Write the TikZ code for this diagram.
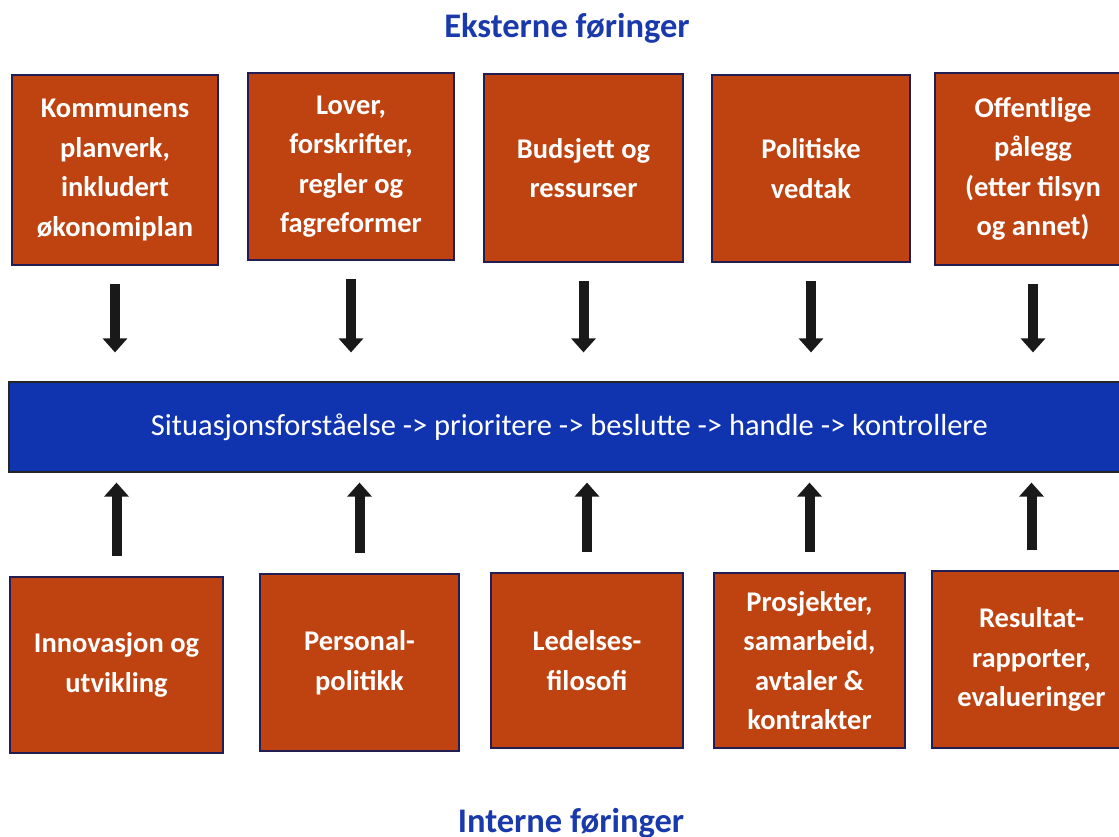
\documentclass[tikz,border=0pt]{standalone}
\usepackage{fontspec}
\setmainfont{Carlito}
\usetikzlibrary{arrows.meta,positioning}
\definecolor{boxred}{RGB}{191,66,17}
\definecolor{edgenavy}{RGB}{34,30,84}
\definecolor{barblue}{RGB}{16,52,176}
\definecolor{titleblue}{RGB}{26,58,172}

\begin{document}
\begin{tikzpicture}[x=1pt, y=-1pt,
    cell/.style={draw=edgenavy, line width=1.5pt, fill=boxred, text=white, align=center, inner sep=0pt, font=\fontsize{28.5}{39.5}\selectfont\bfseries},
    bar/.style={draw=black!85, line width=1.2pt, fill=barblue, text=white, inner sep=0pt, font=\fontsize{30.5}{34}\selectfont},
    note/.style={text=titleblue, anchor=base, font=\fontsize{34.5}{40}\selectfont\bfseries},
    arr/.style={-{Triangle[width=24pt,length=14pt]}, line width=10pt, black!90}
  ]
    \useasboundingbox (0,0) rectangle (1119,837);
    \clip (0,0) rectangle (1119,837);

    \node[note] (ext) at (567,38) {Eksterne føringer};
    \node[note] (int) at (571,832) {Interne føringer};

    % eksterne
    \node[cell, minimum width=206pt, minimum height=190pt] (t1) at (115,170) {Kommunens\\planverk,\\inkludert\\økonomiplan};
    \node[cell, minimum width=206pt, minimum height=187pt] (t2) at (351,166.5) {Lover,\\forskrifter,\\regler og\\fagreformer};
    \node[cell, minimum width=199pt, minimum height=188pt] (t3) at (583.5,168) {Budsjett og\\ressurser};
    \node[cell, minimum width=198pt, minimum height=187pt] (t4) at (811,168.5) {Politiske\\vedtak};
    \node[cell, minimum width=196pt, minimum height=192pt] (t5) at (1033,169) {Offentlige\\pålegg\\(etter tilsyn\\og annet)};

    \node[bar, minimum width=1121pt, minimum height=90pt] (bar) at (569.5,427)
      {Situasjonsforståelse -> prioritere -> beslutte -> handle -> kontrollere};

    % interne
    \node[cell, minimum width=213pt, minimum height=176pt] (b1) at (116.5,665) {Innovasjon og\\utvikling};
    \node[cell, minimum width=199pt, minimum height=177pt] (b2) at (359.5,662.5) {Personal-\\politikk};
    \node[cell, minimum width=192pt, minimum height=175pt] (b3) at (587,660.5) {Ledelses-\\filosofi};
    \node[cell, minimum width=191pt, minimum height=175pt] (b4) at (809.5,660.5) {Prosjekter,\\samarbeid,\\avtaler \&\\kontrakter};
    \node[cell, minimum width=199pt, minimum height=177pt] (b5) at (1031.5,659.5) {Resultat-\\rapporter,\\evalueringer};

    \foreach \i in {1,...,5} {
      \draw[arr, shorten <=18pt, shorten >=29pt] (t\i.south) -- (t\i.south |- bar.north);
      \draw[arr, shorten <=20pt, shorten >=10pt] (b\i.north) -- (b\i.north |- bar.south);
    }
  \end{tikzpicture}
\end{document}
